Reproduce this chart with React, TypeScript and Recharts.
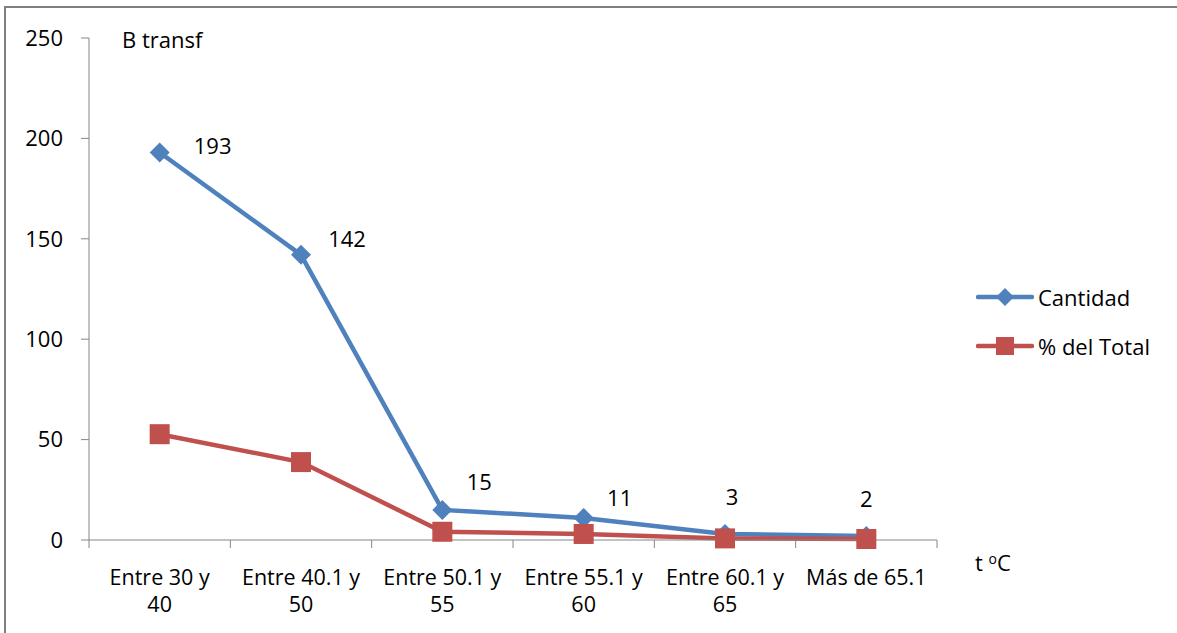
import { LineChart, Line, XAxis, YAxis, LabelList } from "recharts"

const categories = [
  "Entre 30 y 40",
  "Entre 40.1 y 50",
  "Entre 50.1 y 55",
  "Entre 55.1 y 60",
  "Entre 60.1 y 65",
  "Más de 65.1",
]
const cantidad = [193, 142, 15, 11, 3, 2]
const porcentaje = [52.7, 38.8, 4.1, 3.0, 0.8, 0.5]
const yTicks = [0, 50, 100, 150, 200, 250]
const seriesNames = ["Cantidad", "% del Total"]

const data = categories.map((name, i) => ({ name, cantidad: cantidad[i], porcentaje: porcentaje[i] }))

const font = "'Open Sans', Carlito, Calibri, sans-serif"
const fontSize = 22
const blue = "#4F81BD"
const red = "#C0504D"
const axisColor = "#868686"

const W = 1177
const H = 633
const margin = { top: 38, right: 240, bottom: 0, left: 0 }
const yAxisWidth = 89
const xAxisHeight = 93
const bandWidth = (W - margin.right - yAxisWidth) / categories.length

// label nudges, copied by eye from the excel export
const labelNudge = [
  [53, -7],
  [46, -17],
  [37, -29],
  [36, -21],
  [7, -38],
  [0, -38],
]

function CategoryTick(props: any) {
  const { x, payload, index } = props
  const label: string = payload.value
  const cut = label.lastIndexOf(" y ")
  const lines = cut > 0 ? [label.slice(0, cut + 2), label.slice(cut + 3)] : [label]
  const left = x - bandWidth / 2
  const axisY = H - xAxisHeight
  return (
    <g>
      <line x1={left} x2={left} y1={axisY} y2={axisY + 8} stroke={axisColor} />
      {index === categories.length - 1 && (
        <line x1={left + bandWidth} x2={left + bandWidth} y1={axisY} y2={axisY + 8} stroke={axisColor} />
      )}
      <text x={x} y={axisY + 45} textAnchor="middle" fontSize={21.5} fontFamily={font} fill="#000">
        {lines.map((l, i) => (
          <tspan key={i} x={x} dy={i === 0 ? 0 : 27}>
            {l}
          </tspan>
        ))}
      </text>
    </g>
  )
}

function Diamond(props: any) {
  const { cx, cy } = props
  if (cx == null || cy == null) return null
  const r = 10
  return <path d={`M${cx},${cy - r}L${cx + r},${cy}L${cx},${cy + r}L${cx - r},${cy}Z`} fill={blue} />
}

function Square(props: any) {
  const { cx, cy } = props
  if (cx == null || cy == null) return null
  const s = 20
  return <rect x={cx - s / 2} y={cy - s / 2} width={s} height={s} fill={red} />
}

function ValueLabel(props: any) {
  const { x, y, value, index } = props
  const [dx, dy] = labelNudge[index] ?? [0, -20]
  return (
    <text
      x={x + dx}
      y={y + dy}
      textAnchor="middle"
      dominantBaseline="central"
      fontSize={fontSize}
      fontFamily={font}
      fill="#000"
    >
      {value}
    </text>
  )
}

function LegendBox() {
  const marks = [
    { color: blue, mark: "diamond" },
    { color: red, mark: "square" },
  ]
  return (
    <div style={{ fontFamily: font, fontSize }}>
      {seriesNames.map((name, i) => (
        <div key={name} style={{ display: "flex", alignItems: "center", height: 49 }}>
          <svg width={58} height={20} style={{ marginRight: 4 }}>
            <line x1={2} x2={56} y1={10} y2={10} stroke={marks[i].color} strokeWidth={4.5} strokeLinecap="round" />
            {marks[i].mark === "diamond" ? (
              <path d="M29,1L38,10L29,19L20,10Z" fill={marks[i].color} />
            ) : (
              <rect x={20} y={1} width={18} height={18} fill={marks[i].color} />
            )}
          </svg>
          <span>{name}</span>
        </div>
      ))}
    </div>
  )
}

export default function App() {
  return (
    <div style={{ position: "relative", width: W, height: H, overflow: "hidden", background: "#fff" }}>
      <style>{"body{margin:0}"}</style>
      <LineChart width={W} height={H} data={data} margin={margin} style={{ position: "absolute", left: 0, top: 0 }}>
        <XAxis
          dataKey="name"
          height={xAxisHeight}
          stroke={axisColor}
          tickLine={false}
          tick={<CategoryTick />}
          interval={0}
          padding={{ left: bandWidth / 2, right: bandWidth / 2 }}
        />
        <YAxis
          width={yAxisWidth}
          domain={[0, 250]}
          ticks={yTicks}
          stroke={axisColor}
          tickSize={8}
          tickMargin={18}
          tick={{ fill: "#000", fontSize, fontFamily: font }}
        />
        <Line
          dataKey="cantidad"
          name={seriesNames[0]}
          stroke={blue}
          strokeWidth={4.5}
          dot={<Diamond />}
          activeDot={false}
          isAnimationActive={false}
        >
          <LabelList dataKey="cantidad" content={<ValueLabel />} />
        </Line>
        <Line
          dataKey="porcentaje"
          name={seriesNames[1]}
          stroke={red}
          strokeWidth={4.5}
          dot={<Square />}
          activeDot={false}
          isAnimationActive={false}
        />
      </LineChart>
      <div style={{ position: "absolute", left: 976, top: 272 }}>
        <LegendBox />
      </div>
      <div style={{ position: "absolute", left: 122, top: 24, fontFamily: font, fontSize, lineHeight: "30px" }}>
        B transf
      </div>
      <div style={{ position: "absolute", left: 975, top: 547, fontFamily: font, fontSize, lineHeight: "30px" }}>
        t <sup style={{ fontSize: 14, verticalAlign: 7, lineHeight: 0 }}>o</sup>C
      </div>
      <div
        style={{
          position: "absolute",
          left: 4,
          top: 6,
          width: W + 20,
          height: H + 20,
          borderTop: "2px solid #7f7f7f",
          borderLeft: "2px solid #7f7f7f",
          zIndex: 10,
          pointerEvents: "none",
        }}
      />
    </div>
  )
}
